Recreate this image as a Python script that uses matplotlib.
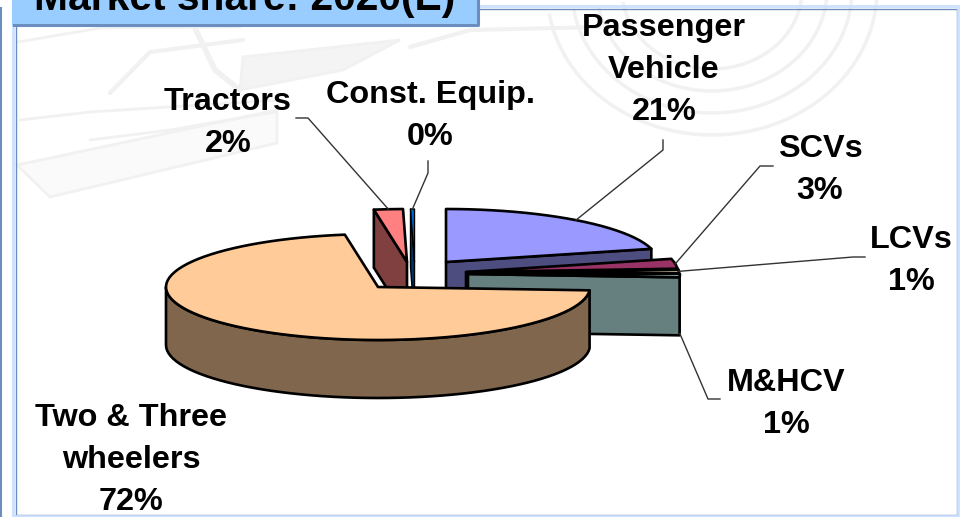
import numpy as np
import matplotlib
matplotlib.use("Agg")
import matplotlib.pyplot as plt
from matplotlib.patches import Polygon, Rectangle

# shares in percent, clockwise from 12 o'clock
categories = ["Passenger\nVehicle", "SCVs", "LCVs", "M&HCV",
              "Two & Three\nwheelers", "Tractors", "Const. Equip."]
shares = [21.0, 3.0, 1.0, 1.0, 71.5, 2.2, 0.3]
title = "Market share: 2020(E)"

top_colors = ["#9999FF", "#993366", "#FFFFCC", "#CCFFFF", "#FFCC99", "#FF8080", "#0066CC"]
side_colors = ["#4D4D80", "#4D1A33", "#808066", "#668080", "#7F664D", "#804040", "#003366"]

# exploded apex of each slice, in pixels
centers = [(446, 262), (466, 272), (467, 273), (468, 274), (378, 287), (407, 262), (414.5, 262)]
# label centre and leader elbow
label_pos = [(664, 70), (820, 170), (911, 261), (786, 404), (131, 460), (228, 123), (430, 116)]
elbows = [[(663, 150), (663, 140)], [(760, 166), (773, 166)], [(853, 257), (865, 257)],
          [(708, 399), (720, 399)], None, [(308, 118), (296, 118)], [(428, 173), (428, 161)]]

RX, RY, DEPTH = 212, 53, 58
W, H = 965, 517

fig = plt.figure(figsize=(W / 100, H / 100), dpi=100)
ax = fig.add_axes([0, 0, 1, 1])
ax.set_xlim(0, W)
ax.set_ylim(H, 0)
ax.axis("off")
plt.rcParams["font.family"] = ["Liberation Sans", "DejaVu Sans"]


def rim(center, a0, a1, n=40):
    # points on the top ellipse between two angles (degrees)
    t = np.radians(np.linspace(a0, a1, n))
    return np.column_stack([center[0] + RX * np.sin(t), center[1] - RY * np.cos(t)])


# faint watermark behind the chart: a car sketch on the left, arcs on the right
wm = "#F1F1F1"
ax.add_patch(Polygon([(17, 165), (277, 110), (277, 143), (50, 197)], fc="#FAFAFA", ec=wm, lw=2, zorder=1))
ax.add_patch(Polygon([(243, 57), (400, 40), (343, 70), (240, 90)], fc="#F4F4F4", ec=wm, lw=2, zorder=1))
for xs, ys, lw in [
    ([18, 100, 240], [42, 28, 27], 2),
    ([110, 150, 243], [93, 52, 40], 3),
    ([195, 215, 240], [28, 70, 90], 4),
    ([410, 470, 600], [47, 30, 27], 3),
    ([20, 90, 280], [120, 112, 100], 2),
    ([90, 170, 275], [140, 130, 112], 2),
]:
    ax.plot(xs, ys, color=wm, lw=lw, solid_capstyle="round", zorder=1)
for drx, dry in [(0, 0), (25, 22), (50, 44), (75, 66)]:
    t = np.radians(np.linspace(0, 170, 50))
    ax.plot(712 + (165 - drx) * np.cos(t), -10 + (145 - dry) * np.sin(t), color=wm, lw=2.5, zorder=1)

# slide frame
ax.add_patch(Rectangle((16, 9), 941, 506, fill=False, ec="#6C8EBF", lw=1, zorder=2))
ax.add_patch(Rectangle((13, 6), 945, 510, fill=False, ec="#CCE0FF", lw=2, zorder=2))
ax.plot([0.5, 0.5], [8, H], color="#6C8EBF", lw=1.5, zorder=2)

# title box, its text runs off the top of the picture
ax.add_patch(Rectangle((12, -2), 466, 28, fc="#99CCFF", ec="none", zorder=3))
ax.plot([14, 478, 478], [25, 25, 0], color="#6C8EBF", lw=2.2, zorder=3)
ax.text(34, 10, title, fontsize=29.3, fontweight="bold", ha="left", va="baseline",
        color="black", zorder=4)

angles = np.concatenate([[0], np.cumsum(shares) * 3.6])
down = np.array([0, DEPTH])


def poly(points, color, z, lw=1.9):
    ax.add_patch(Polygon(points, closed=True, fc=color, ec="black", lw=lw,
                         joinstyle="round", zorder=z))


# back to front, the big slice goes last
order = [5, 6, 0, 1, 2, 3, 4]
for k, i in enumerate(order):
    c = np.array(centers[i], dtype=float)
    a0, a1 = angles[i], angles[i + 1]
    z = 10 + k * 2
    lw = 1.0 if i == 6 else 1.9
    arc = rim(c, a0, a1, n=max(3, int((a1 - a0) / 3)))
    if i == 4:
        # outer wall of the front half
        front = rim(c, a0, 270, n=60)
        poly(np.vstack([front, (front + down)[::-1]]), side_colors[i], z)
    elif i in (5, 6):
        # the cut face on the left of the slice shows
        poly(np.vstack([c, arc[0], arc[0] + down, c + down]), side_colors[i], z, lw)
    else:
        poly(np.vstack([c, arc[-1], arc[-1] + down, c + down]), side_colors[i], z)
    poly(np.vstack([c, arc]), top_colors[i], z + 1, lw)

# leaders and labels
for i, name in enumerate(categories):
    ax.text(label_pos[i][0], label_pos[i][1], f"{name}\n{round(shares[i])}%",
            fontsize=23.3, fontweight="bold", ha="center", va="center",
            linespacing=1.53, color="black", zorder=40)
    if elbows[i] is None:
        continue
    c = np.array(centers[i], dtype=float)
    mid = rim(c, angles[i], angles[i + 1], n=3)[1]
    if name == "M&HCV":
        mid = mid + down
    pts = np.vstack([mid, elbows[i]])
    ax.plot(pts[:, 0], pts[:, 1], color="#333333", lw=1, zorder=30)

fig.savefig("out.png", dpi=100)
